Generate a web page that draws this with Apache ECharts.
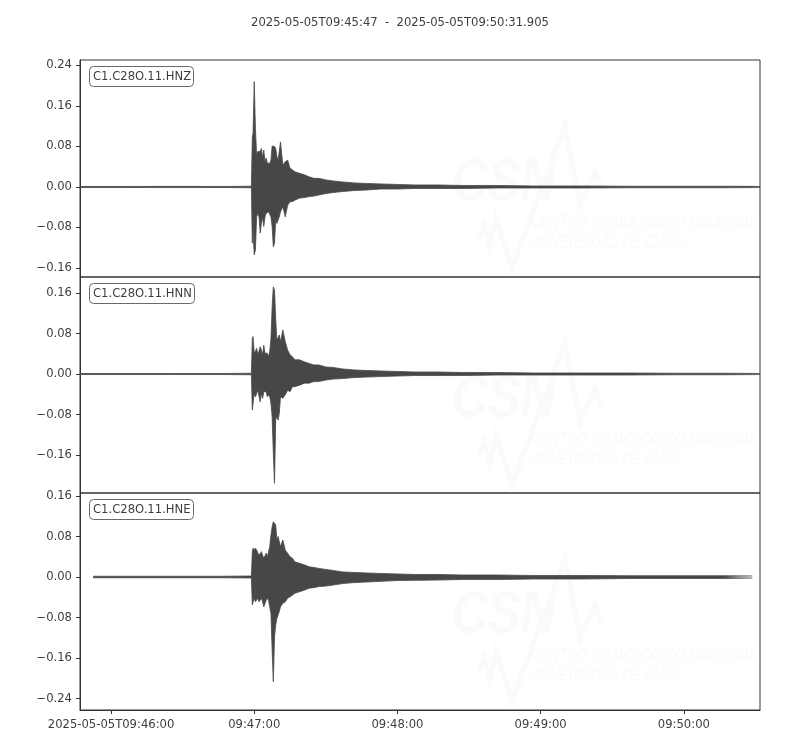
<!DOCTYPE html>
<html>
<head>
<meta charset="utf-8">
<script src="https://cdn.jsdelivr.net/npm/echarts@6/dist/echarts.min.js"></script>
<style>html,body{margin:0;padding:0;background:#fff}#c{width:800px;height:750px}</style>
</head>
<body>
<div id="c"></div>
<script>
// ---- DATA (seconds after 2025-05-05T09:45:47) ----
const titleText = '2025-05-05T09:45:47  -  2025-05-05T09:50:31.905';
const traceNames = ['C1.C28O.11.HNZ', 'C1.C28O.11.HNN', 'C1.C28O.11.HNE'];
const timeSec = [0, 5.5, 20, 40, 60, 71.8, 72.2, 72.5, 73, 73.5, 74, 74.5, 75, 75.5, 76, 76.5, 77, 77.5, 78, 78.5, 79, 79.5, 80, 80.5, 81, 81.5, 82, 82.5, 83, 83.5, 84, 85, 86, 87, 88, 89, 90, 92, 94, 96, 98, 100, 103, 106, 110, 115, 120, 126, 133, 140, 150, 160, 175, 190, 210, 230, 250, 270, 281.7, 284.905];

// envelope maxima / minima per component
const hnzMax = [0.001, 0.001, 0.001, 0.0012, 0.001, 0.0015, 0.099, 0.106, 0.208, 0.116, 0.063, 0.070, 0.073, 0.070, 0.076, 0.057, 0.073, 0.050, 0.057, 0.047, 0.050, 0.047, 0.053, 0.081, 0.081, 0.080, 0.076, 0.060, 0.053, 0.050, 0.089, 0.043, 0.050, 0.053, 0.037, 0.034, 0.030, 0.027, 0.024, 0.020, 0.017, 0.017, 0.014, 0.012, 0.010, 0.008, 0.007, 0.006, 0.005, 0.004, 0.004, 0.003, 0.003, 0.002, 0.002, 0.0015, 0.0015, 0.0015, 0.0012, 0.001];
const hnzMin = [-0.001, -0.001, -0.001, -0.0012, -0.001, -0.0015, -0.111, -0.085, -0.134, -0.124, -0.059, -0.052, -0.059, -0.091, -0.072, -0.059, -0.078, -0.059, -0.052, -0.055, -0.049, -0.052, -0.059, -0.078, -0.118, -0.111, -0.065, -0.072, -0.069, -0.059, -0.049, -0.039, -0.059, -0.036, -0.029, -0.029, -0.026, -0.022, -0.021, -0.019, -0.018, -0.016, -0.013, -0.011, -0.009, -0.007, -0.006, -0.004, -0.004, -0.003, -0.003, -0.003, -0.002, -0.002, -0.002, -0.0015, -0.0015, -0.0015, -0.0012, -0.001];

const hnnMax = [0.001, 0.001, 0.001, 0.001, 0.001, 0.0015, 0.070, 0.074, 0.041, 0.045, 0.051, 0.038, 0.045, 0.054, 0.047, 0.038, 0.057, 0.041, 0.038, 0.041, 0.034, 0.045, 0.070, 0.133, 0.172, 0.166, 0.107, 0.067, 0.070, 0.077, 0.064, 0.087, 0.064, 0.047, 0.038, 0.034, 0.028, 0.028, 0.024, 0.021, 0.018, 0.018, 0.014, 0.013, 0.010, 0.008, 0.007, 0.006, 0.005, 0.004, 0.004, 0.003, 0.003, 0.002, 0.002, 0.002, 0.0015, 0.0015, 0.0012, 0.001];
const hnnMin = [-0.001, -0.001, -0.001, -0.001, -0.001, -0.0015, -0.071, -0.074, -0.038, -0.045, -0.048, -0.032, -0.032, -0.055, -0.038, -0.048, -0.035, -0.032, -0.035, -0.045, -0.041, -0.045, -0.058, -0.084, -0.157, -0.216, -0.090, -0.084, -0.091, -0.078, -0.045, -0.048, -0.041, -0.032, -0.035, -0.025, -0.025, -0.022, -0.018, -0.018, -0.015, -0.015, -0.012, -0.010, -0.009, -0.007, -0.006, -0.005, -0.004, -0.003, -0.003, -0.003, -0.002, -0.002, -0.002, -0.002, -0.0015, -0.0015, -0.0012, -0.001];

const hneMax = [null, 0.0015, 0.0015, 0.0015, 0.0015, 0.002, 0.050, 0.057, 0.053, 0.057, 0.053, 0.050, 0.043, 0.040, 0.050, 0.043, 0.037, 0.040, 0.047, 0.040, 0.043, 0.060, 0.083, 0.099, 0.109, 0.106, 0.103, 0.073, 0.080, 0.070, 0.060, 0.073, 0.053, 0.047, 0.040, 0.037, 0.030, 0.027, 0.024, 0.020, 0.019, 0.017, 0.015, 0.013, 0.010, 0.009, 0.008, 0.007, 0.006, 0.005, 0.005, 0.004, 0.004, 0.003, 0.003, 0.0025, 0.0025, 0.0025, 0.002, null];
const hneMin = [null, -0.0015, -0.0015, -0.0015, -0.0015, -0.002, -0.055, -0.052, -0.042, -0.049, -0.046, -0.042, -0.049, -0.052, -0.042, -0.049, -0.059, -0.059, -0.046, -0.042, -0.046, -0.049, -0.072, -0.144, -0.207, -0.118, -0.095, -0.082, -0.075, -0.068, -0.059, -0.052, -0.049, -0.042, -0.039, -0.036, -0.032, -0.029, -0.026, -0.022, -0.021, -0.019, -0.018, -0.016, -0.013, -0.011, -0.010, -0.0086, -0.007, -0.0066, -0.006, -0.005, -0.005, -0.004, -0.004, -0.003, -0.003, -0.003, -0.002, null];

const xTickSec = [13, 73, 133, 193, 253];
const xTickLabels = ['2025-05-05T09:46:00', '09:47:00', '09:48:00', '09:49:00', '09:50:00'];
const yTicksZ = [-0.16, -0.08, 0, 0.08, 0.16, 0.24];
const yTicksN = [-0.16, -0.08, 0, 0.08, 0.16];
const yTicksE = [-0.24, -0.16, -0.08, 0, 0.08, 0.16];
const yRanges = [[-0.1778, 0.2508], [-0.235, 0.1916], [-0.2627, 0.1659]];

// ---- CHART ----
const FONT = 'DejaVu Sans';
const FS = 11.6;
const TXT = '#3d3d3d';
const WAVE = '#474747';
const gridTops = [60, 277, 493];
const gridHeights = [217, 216, 217];
const envMax = [hnzMax, hnnMax, hneMax];
const envMin = [hnzMin, hnnMin, hneMin];
const yTicks = [yTicksZ, yTicksN, yTicksE];

const fmtY = v => (v < 0 ? '\u2212' : '') + Math.abs(v).toFixed(2);

const grids = [], xAxes = [], yAxes = [], series = [];
for (let p = 0; p < 3; p++) {
  grids.push({ left: 80, width: 680, top: gridTops[p], height: gridHeights[p], show: true, borderColor: '#333', borderWidth: 1, backgroundColor: 'transparent' });
  const last = p === 2;
  xAxes.push({
    type: 'value', gridIndex: p, min: 0, max: 284.905, position: 'bottom',
    axisLine: { show: last, onZero: false, lineStyle: { color: '#333', width: 1 } },
    splitLine: { show: false },
    axisTick: { show: last, customValues: xTickSec, length: 4, lineStyle: { color: '#333', width: 1 } },
    axisLabel: {
      show: last, customValues: xTickSec, margin: 9, color: TXT, fontFamily: FONT, fontSize: FS,
      formatter: v => { const i = xTickSec.indexOf(Math.round(v)); return i >= 0 ? xTickLabels[i] : ''; }
    }
  });
  yAxes.push({
    type: 'value', gridIndex: p, min: yRanges[p][0], max: yRanges[p][1], position: 'left',
    axisLine: { show: true, onZero: false, lineStyle: { color: '#333', width: 1 } },
    splitLine: { show: false },
    axisTick: { show: true, customValues: yTicks[p], length: 4, lineStyle: { color: '#333', width: 1 } },
    axisLabel: { customValues: yTicks[p], margin: 8, color: TXT, fontFamily: FONT, fontSize: FS, formatter: fmtY }
  });
  [envMax[p], envMin[p]].forEach(arr => {
    series.push({
      type: 'line', xAxisIndex: p, yAxisIndex: p,
      data: timeSec.map((t, i) => [t, arr[i]]),
      showSymbol: false, symbol: 'none', sampling: null, connectNulls: false,
      lineStyle: { color: WAVE, width: 0.8 },
      areaStyle: { color: WAVE, opacity: 1, origin: 0 },
      silent: true, z: 3
    });
  });
}

const titles = [{
  text: titleText, left: 'center', top: 12,
  textStyle: { fontFamily: FONT, fontSize: FS, fontWeight: 'normal', color: TXT }
}];
traceNames.forEach((n, p) => {
  titles.push({
    text: n, left: 89, top: gridTops[p] + 6,
    padding: [4, 3, 3, 4],
    borderColor: '#6a6a6a', borderWidth: 1, borderRadius: 4, backgroundColor: '#fff',
    textStyle: { fontFamily: FONT, fontSize: FS, fontWeight: 'normal', color: TXT, lineHeight: 14 }
  });
});

// very faint CSN watermark per panel
const WM = '#fafafa';
const graphics = [];
gridTops.forEach((top, p) => {
  const dy = top - 60;
  graphics.push({
    type: 'group', silent: true, z: 0,
    children: [
      { type: 'polyline', shape: { points: [[478, 240 + dy], [484, 225 + dy], [490, 245 + dy], [496, 218 + dy], [512, 268 + dy], [565, 125 + dy], [580, 205 + dy], [595, 172 + dy], [602, 190 + dy]] }, style: { stroke: WM, lineWidth: 5, fill: null } },
      { type: 'text', x: 452, y: 153 + dy, scaleX: 0.82, style: { text: 'CSN', font: 'italic bold 60px "Liberation Sans"', fill: WM } },
      { type: 'text', x: 531, y: 213 + dy, scaleX: 0.7, style: { text: 'CENTRO SISMOLÓGICO NACIONAL', font: 'italic 19px "Liberation Sans"', fill: WM } },
      { type: 'text', x: 528, y: 233 + dy, scaleX: 0.7, style: { text: 'UNIVERSIDAD DE CHILE', font: 'italic 19px "Liberation Sans"', fill: WM } }
    ]
  });
});

const chart = echarts.init(document.getElementById('c'), null, { renderer: 'canvas' });
chart.setOption({
  animation: false,
  backgroundColor: '#fff',
  title: titles,
  grid: grids,
  xAxis: xAxes,
  yAxis: yAxes,
  series: series,
  graphic: graphics
});
</script>
</body>
</html>
